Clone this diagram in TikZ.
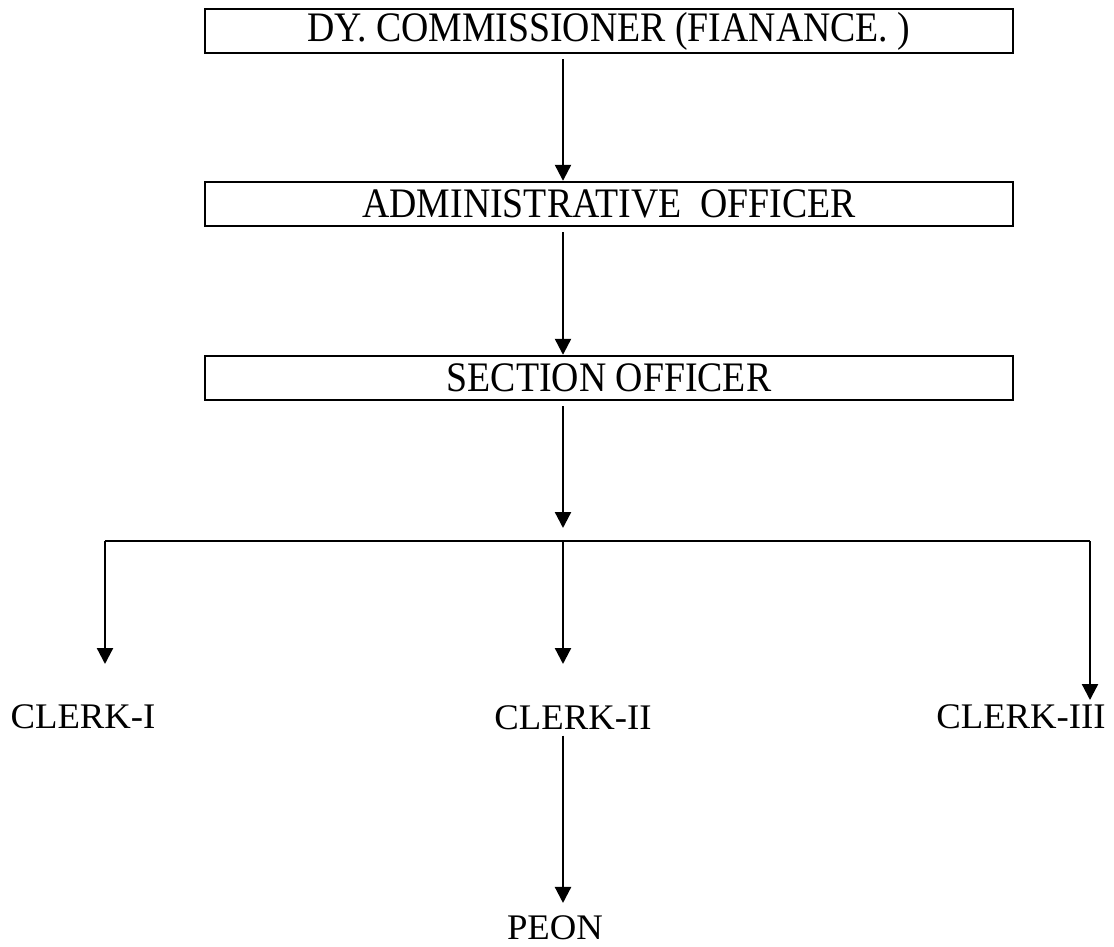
\documentclass[tikz,border=0pt]{standalone}
\usepackage{fontspec}
\setmainfont{Liberation Serif}
\usetikzlibrary{arrows.meta}
\newcommand\toptext[1]{\fontsize{42}{42}\selectfont\scalebox{0.9}[1]{#1}}
\newcommand\lowtext[1]{\fontsize{36}{36}\selectfont\scalebox{1.02}[1]{#1}}
\begin{document}
\begin{tikzpicture}[x=1pt,y=-1pt,
  rankbox/.style={draw,line width=2.4pt,minimum width=808pt,minimum height=44pt,inner sep=0pt},
  lbl/.style={inner sep=0pt,anchor=base},
  link/.style={line width=2.3pt},
  arr/.style={line width=2.3pt,-{Triangle[width=16pt,length=16pt]}}]
\useasboundingbox (0,0) rectangle (1114,947);
\node[rankbox] (b1) at (609,31) {\toptext{DY. COMMISSIONER (FIANANCE. )}};
\node[rankbox] (b2) at (609,204) {\toptext{ADMINISTRATIVE\ \ OFFICER}};
\node[rankbox] (b3) at (609,378) {\toptext{SECTION OFFICER}};
\node[lbl] (c1) at (83,728) {\lowtext{CLERK-I}};
\node[lbl] (c2) at (573,729) {\lowtext{CLERK-II}};
\node[lbl] (c3) at (1021,728) {\lowtext{CLERK-III}};
\node[lbl] (p) at (555,939) {\lowtext{PEON}};
\coordinate (ax) at (563,0);
\coordinate (hm) at (563,541);
\coordinate (hl) at (105,541);
\coordinate (hr) at (1090,541);
\coordinate (t1) at (105,664);
\coordinate (t2) at (563,664);
\coordinate (t3) at (1090,700);
\draw[arr,shorten <=5pt] (b1.south -| ax) -- (b2.north -| ax);
\draw[arr,shorten <=5pt] (b2.south -| ax) -- (b3.north -| ax);
\draw[arr,shorten <=5pt,shorten >=13pt] (b3.south -| ax) -- (hm);
\draw[link] (hl) -- (hr);
\draw[arr] (hl) -- (t1);
\draw[arr] (hm) -- (t2);
\draw[arr] (hr) -- (t3);
\draw[arr,shorten <=6pt,shorten >=12pt] (c2.south -| ax) -- (p.north -| ax);
\end{tikzpicture}
\end{document}
